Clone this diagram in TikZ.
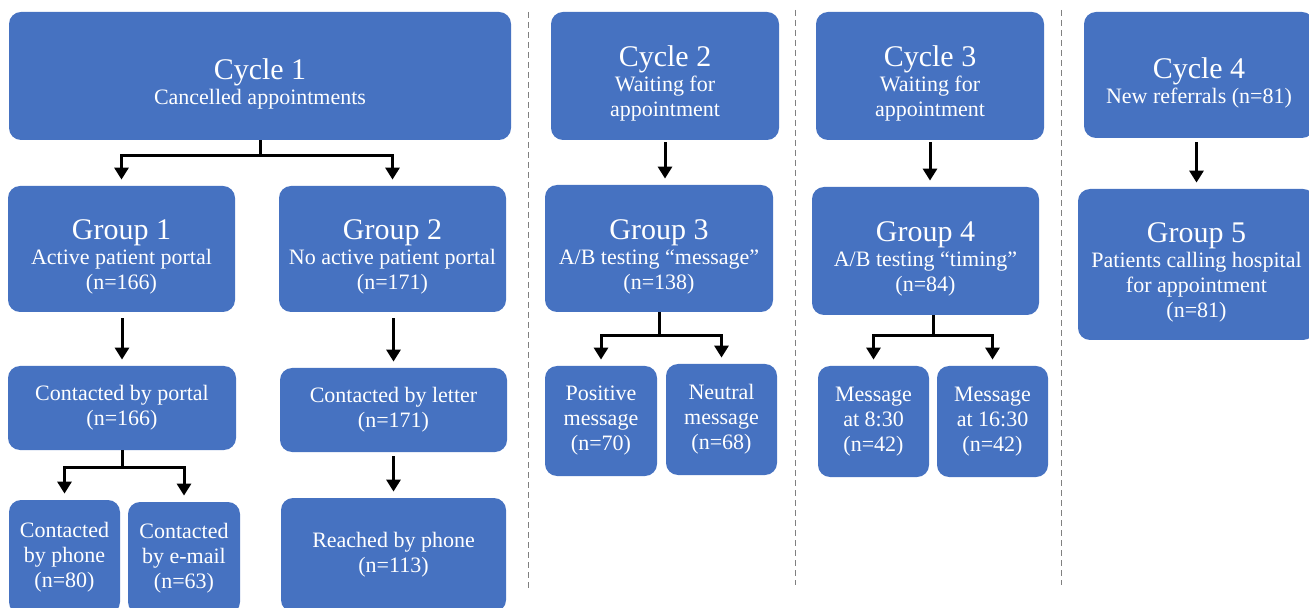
\documentclass[tikz,border=0pt]{standalone}
\usepackage{fontspec}
\setmainfont{Liberation Serif}
\usepackage{xcolor}
\usetikzlibrary{arrows.meta,calc}
\definecolor{boxblue}{RGB}{70,114,193}
\newcommand{\hdr}[1]{{\fontsize{15}{17}\selectfont\rule{0pt}{18pt}#1}}

\begin{document}
\begin{tikzpicture}[x=0.5pt,y=-0.5pt,
    box/.style={fill=boxblue,rounded corners=6pt,text=white,align=center,inner sep=2pt,
        font=\fontsize{11}{12.5}\selectfont},
    arr/.style={line width=1.5pt,-{Triangle[length=6pt,width=7pt]},shorten >=3pt},
    sep/.style={gray,line width=0.5pt,dash pattern=on 3pt off 2pt}]
        \clip (0,0) rectangle (1309,608);

        % Cycle 1
        \node[box,minimum width=251pt,minimum height=64pt] (c1) at (260,76)
            {\hdr{Cycle 1}\\Cancelled appointments};
        \node[box,minimum width=113.5pt,minimum height=63pt] (g1) at (121.5,249)
            {\hdr{Group 1}\\Active patient portal\\(n=166)};
        \node[box,minimum width=113.5pt,minimum height=63pt] (g2) at (392.5,249)
            {\hdr{Group 2}\\No active patient portal\\(n=171)};
        \node[box,minimum width=114pt,minimum height=42pt] (p1) at (122,408)
            {Contacted by portal\\(n=166)};
        \node[box,minimum width=113.5pt,minimum height=42pt] (p2) at (393.5,410)
            {Contacted by letter\\(n=171)};
        \node[box,minimum width=55.5pt,minimum height=57pt] (ph) at (64.5,557)
            {Contacted\\by phone\\(n=80)};
        \node[box,minimum width=56pt,minimum height=56pt] (em) at (184,558)
            {Contacted\\by e-mail\\(n=63)};
        \node[box,minimum width=112.5pt,minimum height=57pt] (rp) at (393.5,555)
            {Reached by phone\\(n=113)};

        \draw[arr] (c1.south) -- ++(0,15) -| (g1.north);
        \draw[arr] (c1.south) -- ++(0,15) -| (g2.north);
        \draw[arr,shorten <=3pt] (g1.south -| p1.north) -- (p1.north);
        \draw[arr,shorten <=3pt] (g2.south -| p2.north) -- (p2.north);
        \draw[arr] (p1.south) -- ++(0,17) -| (ph.north);
        \draw[arr] (p1.south) -- ++(0,17) -| (em.north);
        \draw[arr,shorten <=2pt] (p2) -- (rp);

        \draw[sep] (528,12) -- (528,588);

        % Cycle 2
        \node[box,minimum width=114pt,minimum height=64pt] (c2) at (665,76)
            {\hdr{Cycle 2}\\Waiting for\\appointment};
        \node[box,minimum width=114pt,minimum height=63.5pt] (g3) at (659,248.5)
            {\hdr{Group 3}\\A/B testing ``message''\\(n=138)};
        \node[box,minimum width=56pt,minimum height=55pt] (m1) at (601,421)
            {Positive\\message\\(n=70)};
        \node[box,minimum width=55.5pt,minimum height=55.5pt] (m2) at (721.5,419.5)
            {Neutral\\message\\(n=68)};

        \draw[arr,shorten <=1pt] (c2.south) -- (c2.south |- g3.north);
        \draw[arr] (g3.south) -- ++(0,23) -| (m1.north);
        \draw[arr] (g3.south) -- ++(0,23) -| (m2.north);

        \draw[sep] (795,10) -- (795,585);

        % Cycle 3
        \node[box,minimum width=114pt,minimum height=64pt] (c3) at (930,76)
            {\hdr{Cycle 3}\\Waiting for\\appointment};
        \node[box,minimum width=113.5pt,minimum height=64pt] (g4) at (925.5,251)
            {\hdr{Group 4}\\A/B testing ``timing''\\(n=84)};
        \node[box,minimum width=55.5pt,minimum height=55.5pt] (t1) at (873.5,421.5)
            {Message\\at 8:30\\(n=42)};
        \node[box,minimum width=55.5pt,minimum height=55.5pt] (t2) at (992.5,421.5)
            {Message\\at 16:30\\(n=42)};
        \coordinate (j4) at ($(t1.north)!0.5!(t2.north)$);

        \draw[arr,shorten <=1pt] (c3.south) -- (c3.south |- g4.north);
        \draw[arr] (j4 |- g4.south) -- ++(0,20) -| (t1.north);
        \draw[arr] (j4 |- g4.south) -- ++(0,20) -| (t2.north);

        \draw[sep] (1061,10) -- (1061,585);

        % Cycle 4
        \node[box,minimum width=115pt,minimum height=63pt] (c4) at (1199,75)
            {\hdr{Cycle 4}\\New referrals (n=81)};
        \node[box,minimum width=118.5pt,minimum height=75.5pt] (g5) at (1196.5,264.5)
            {\hdr{Group 5}\\Patients calling hospital\\for appointment\\(n=81)};

        \draw[arr,shorten <=2pt] (c4.south -| g5.north) -- (g5.north);
\end{tikzpicture}
\end{document}
